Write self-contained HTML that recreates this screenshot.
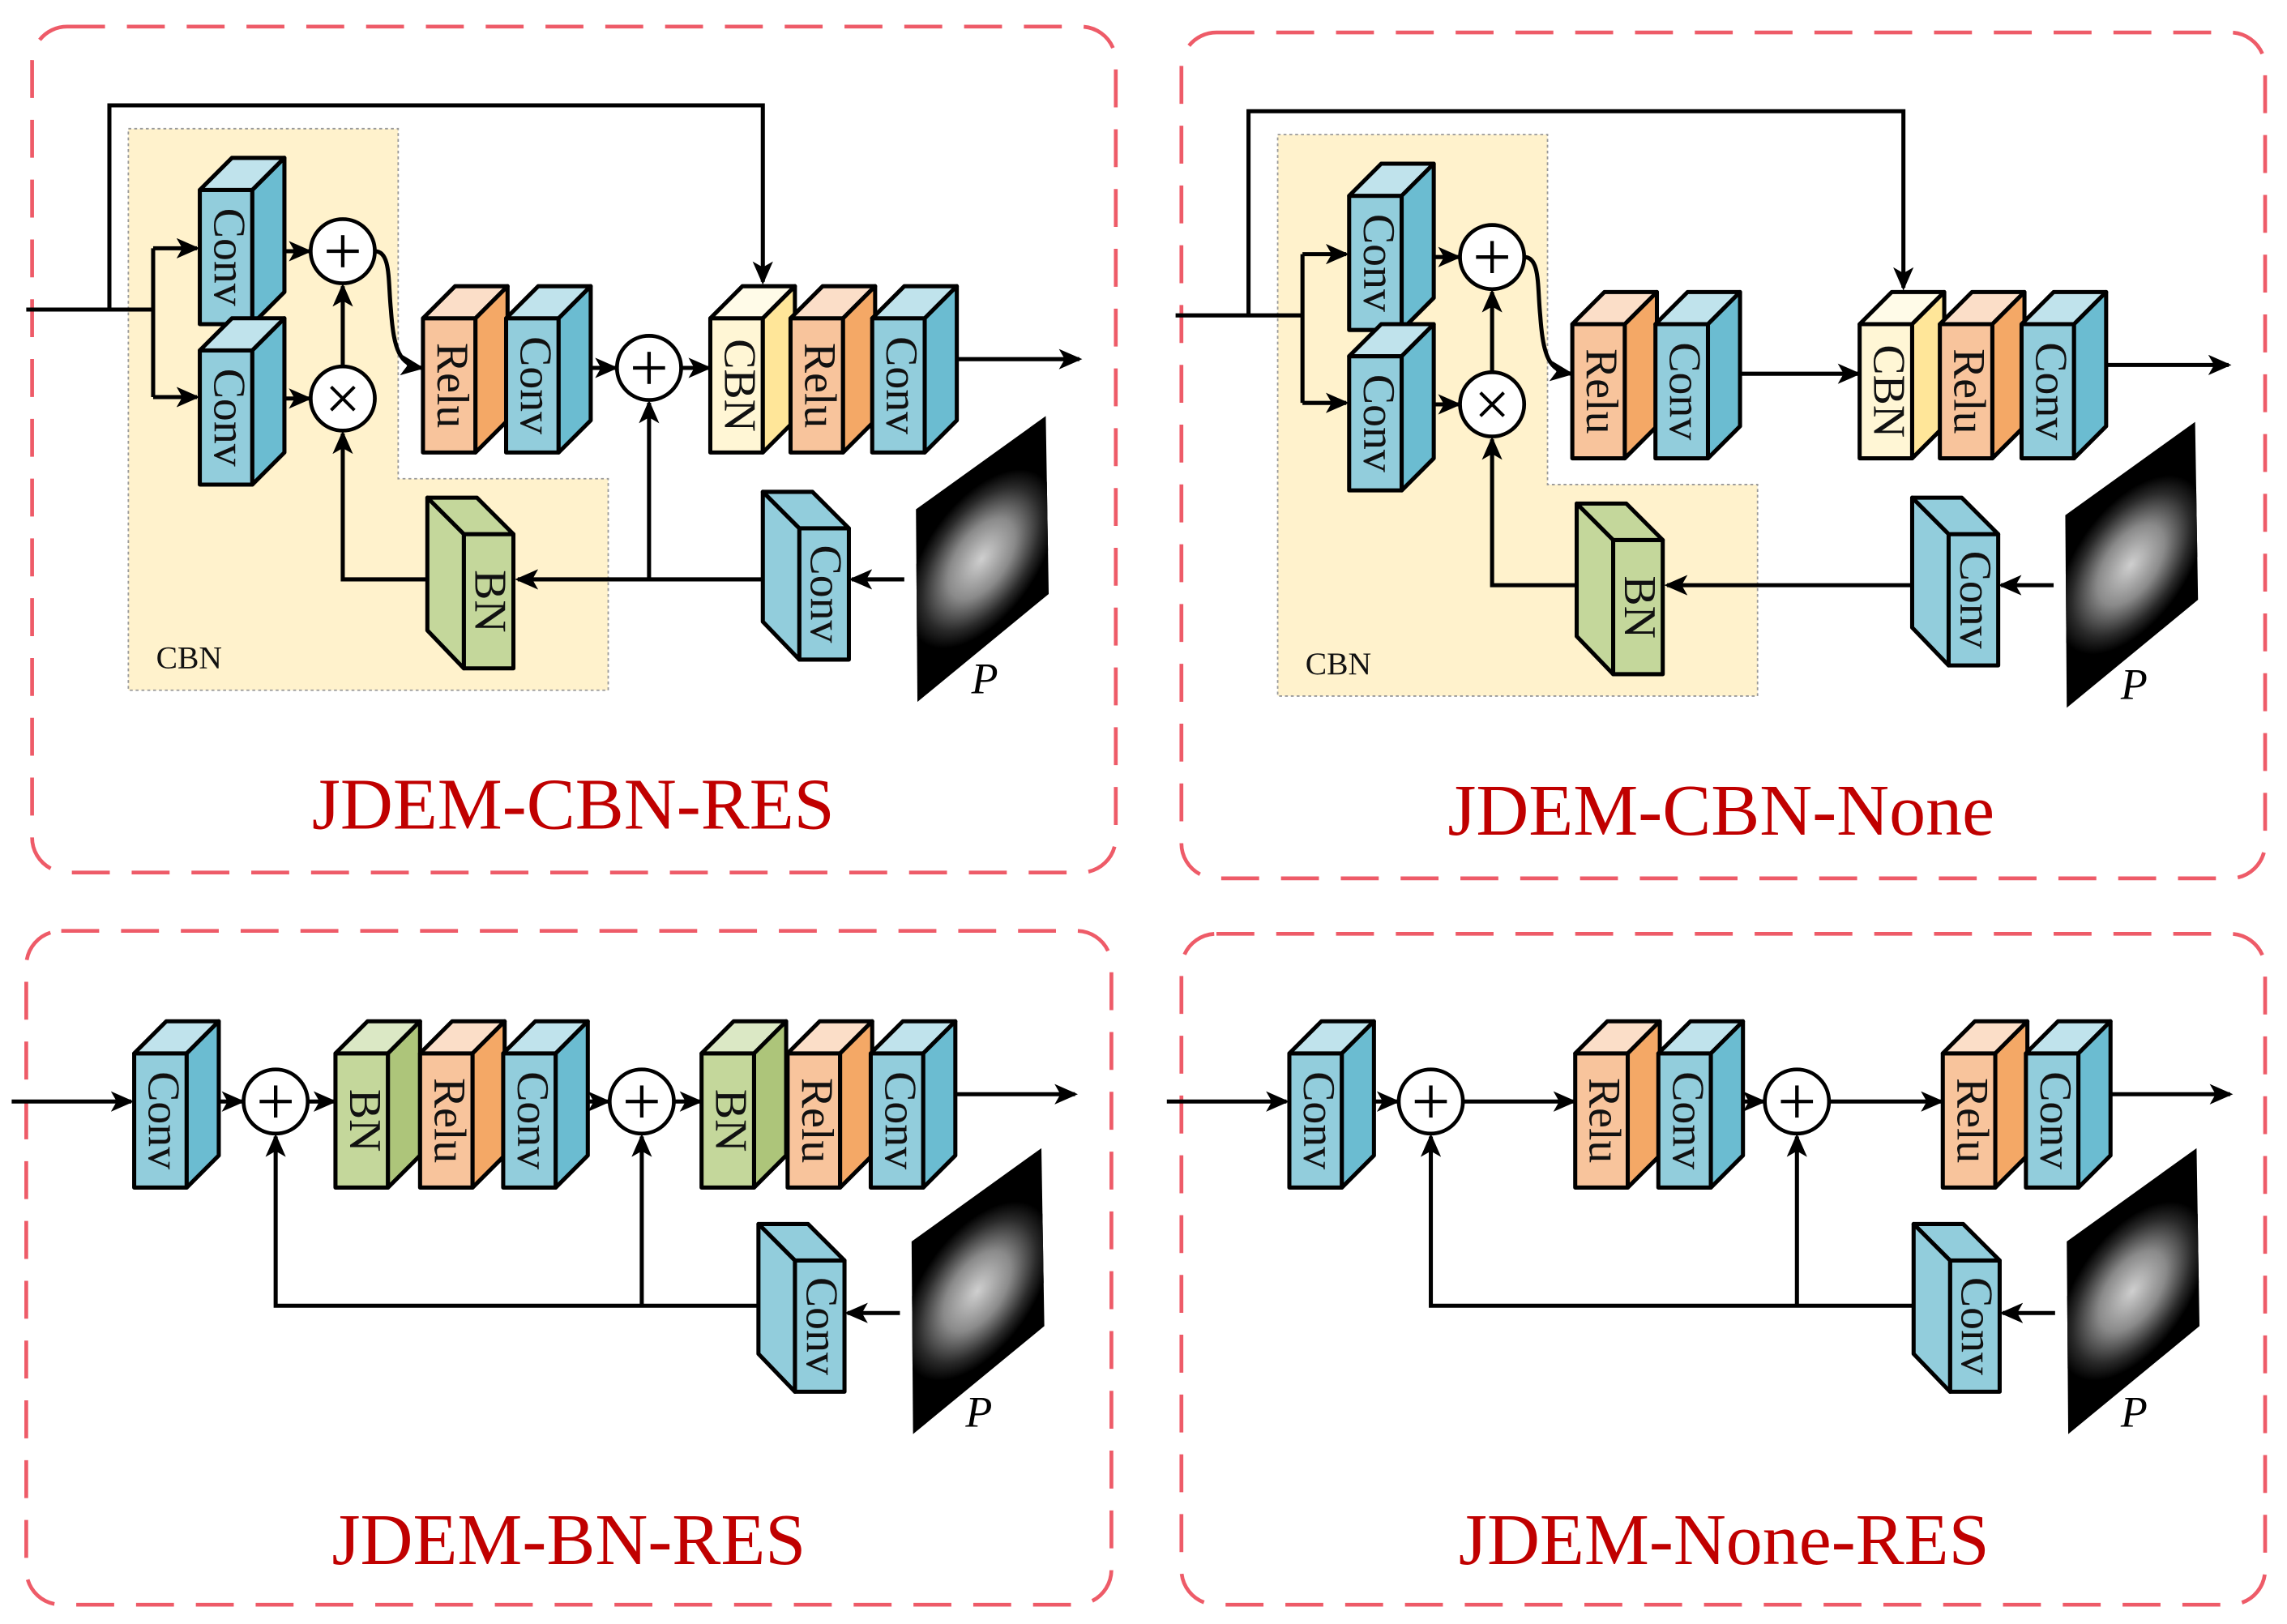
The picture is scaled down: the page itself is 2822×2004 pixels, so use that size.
<!DOCTYPE html>
<html><head><meta charset="utf-8"><style>
html,body{margin:0;padding:0;background:#fff}
svg{display:block}
text{font-family:"Liberation Serif",serif}
.bt{font-size:31px;fill:#111}
.ln{fill:none;stroke:#000;stroke-width:2.8}
.pn{fill:none;stroke:#ee5b68;stroke-width:2.6;stroke-dasharray:26 15}
.ttl{font-size:50px;fill:#c00000}
.cir{fill:#fff;stroke:#000;stroke-width:2.6}
</style></head><body>
<svg width="2822" height="2004" viewBox="0 0 1568 1113" xmlns="http://www.w3.org/2000/svg">
<defs>
<marker id="ar" markerUnits="userSpaceOnUse" markerWidth="16" markerHeight="14" refX="14" refY="7" orient="auto"><path d="M0,0 L16,7 L0,14 L4,7 Z" fill="#000"/></marker>
<g id="conv" stroke="#000" stroke-width="2.8" stroke-linejoin="round"><rect x="0" y="0" width="36" height="92" fill="#92cddc"/><polygon points="0,0 22,-22 58,-22 36,0" fill="#c0e3ec"/><polygon points="36,0 58,-22 58,70 36,92" fill="#6bbcd1"/></g>
<g id="relu" stroke="#000" stroke-width="2.8" stroke-linejoin="round"><rect x="0" y="0" width="36" height="92" fill="#f8c49c"/><polygon points="0,0 22,-22 58,-22 36,0" fill="#fbdec8"/><polygon points="36,0 58,-22 58,70 36,92" fill="#f4a866"/></g>
<g id="bn" stroke="#000" stroke-width="2.8" stroke-linejoin="round"><rect x="0" y="0" width="36" height="92" fill="#c4d79b"/><polygon points="0,0 22,-22 58,-22 36,0" fill="#dbe8c5"/><polygon points="36,0 58,-22 58,70 36,92" fill="#adc57a"/></g>
<g id="cbn" stroke="#000" stroke-width="2.8" stroke-linejoin="round"><rect x="0" y="0" width="36" height="92" fill="#fff6d5"/><polygon points="0,0 22,-22 58,-22 36,0" fill="#fffbe8"/><polygon points="36,0 58,-22 58,70 36,92" fill="#ffe699"/></g>
<g id="mconv" stroke="#000" stroke-width="2.8" stroke-linejoin="round"><rect x="0" y="0" width="34" height="90" fill="#92cddc"/><polygon points="0,0 -25,-25 9,-25 34,0" fill="#92cddc"/><polygon points="0,0 -25,-25 -25,64 0,90" fill="#92cddc"/></g>
<g id="mbn" stroke="#000" stroke-width="2.8" stroke-linejoin="round"><rect x="0" y="0" width="34" height="92" fill="#c4d79b"/><polygon points="0,0 -25,-25 9,-25 34,0" fill="#c4d79b"/><polygon points="0,0 -25,-25 -25,66 0,92" fill="#c4d79b"/></g>
<radialGradient id="pg" cx="50%" cy="50%" r="50%"><stop offset="0" stop-color="#cfcfcf"/><stop offset="0.45" stop-color="#8a8a8a"/><stop offset="0.8" stop-color="#2a2a2a"/><stop offset="1" stop-color="#000"/></radialGradient>
<clipPath id="pc"><polygon points="628,349 717,285 719,407 629,481"/></clipPath>
<g id="pimg"><polygon points="628,349 717,285 719,407 629,481" fill="#000"/><g clip-path="url(#pc)"><ellipse cx="673" cy="383" rx="38" ry="70" transform="rotate(35 673 383)" fill="url(#pg)"/></g></g>
<g id="plus"><line x1="-11" y1="0" x2="11" y2="0" stroke="#000" stroke-width="2.4"/><line x1="0" y1="-11" x2="0" y2="11" stroke="#000" stroke-width="2.4"/></g>
<g id="times"><line x1="-8" y1="-8" x2="8" y2="8" stroke="#000" stroke-width="2.2"/><line x1="-8" y1="8" x2="8" y2="-8" stroke="#000" stroke-width="2.2"/></g>
</defs>

<rect class="pn" x="22" y="18" width="743" height="580" rx="24"/>
<rect class="pn" x="810" y="22" width="743" height="580" rx="24"/>
<rect class="pn" x="18" y="638" width="744" height="462" rx="24"/>
<rect class="pn" x="810" y="640" width="743" height="460" rx="24"/>

<!-- TOP LEFT -->
<g>
<polygon points="88,88 273,88 273,328 417,328 417,473 88,473" fill="#fff2cc" stroke="#999" stroke-width="1" stroke-dasharray="2 2"/>
<text x="107" y="458" font-size="22" fill="#111">CBN</text>
<path class="ln" d="M18,212 H105 M75,212 V72 H523 V193" marker-end="url(#ar)"/>
<path class="ln" d="M105,170 V272"/>
<path class="ln" d="M105,170 H135" marker-end="url(#ar)"/>
<path class="ln" d="M105,272 H135" marker-end="url(#ar)"/>
<use href="#conv" x="137" y="130"/><text class="bt" transform="translate(157,176) rotate(90)" text-anchor="middle" dominant-baseline="central">Conv</text>
<use href="#conv" x="137" y="240"/><text class="bt" transform="translate(157,286) rotate(90)" text-anchor="middle" dominant-baseline="central">Conv</text>
<path class="ln" d="M195,172 H212" marker-end="url(#ar)"/>
<path class="ln" d="M195,273 H212" marker-end="url(#ar)"/>
<path class="ln" d="M235,251 V196" marker-end="url(#ar)"/>
<path class="ln" d="M257,172 C268,172 266,192 268,212 C270,240 274,250 289,252" marker-end="url(#ar)"/>
<circle class="cir" cx="235" cy="172" r="22"/><use href="#plus" x="235" y="172"/>
<circle class="cir" cx="235" cy="273" r="22"/><use href="#times" x="235" y="273"/>
<use href="#relu" x="290" y="218"/><text class="bt" transform="translate(310,264) rotate(90)" text-anchor="middle" dominant-baseline="central">Relu</text>
<use href="#conv" x="347" y="218"/><text class="bt" transform="translate(367,264) rotate(90)" text-anchor="middle" dominant-baseline="central">Conv</text>
<path class="ln" d="M405,252 H422" marker-end="url(#ar)"/>
<circle class="cir" cx="445" cy="252" r="22"/><use href="#plus" x="445" y="252"/>
<path class="ln" d="M467,252 H486" marker-end="url(#ar)"/>
<use href="#cbn" x="487" y="218"/><text class="bt" transform="translate(507,264) rotate(90)" text-anchor="middle" dominant-baseline="central">CBN</text>
<use href="#relu" x="542" y="218"/><text class="bt" transform="translate(562,264) rotate(90)" text-anchor="middle" dominant-baseline="central">Relu</text>
<use href="#conv" x="598" y="218"/><text class="bt" transform="translate(618,264) rotate(90)" text-anchor="middle" dominant-baseline="central">Conv</text>
<path class="ln" d="M656,246 H740" marker-end="url(#ar)"/>
<use href="#mconv" x="548" y="362"/><text class="bt" transform="translate(566,407) rotate(90)" text-anchor="middle" dominant-baseline="central">Conv</text>
<use href="#mbn" x="318" y="366"/><text class="bt" transform="translate(336,412) rotate(90)" text-anchor="middle" dominant-baseline="central">BN</text>
<path class="ln" d="M620,397 H584" marker-end="url(#ar)"/>
<path class="ln" d="M522,397 H355" marker-end="url(#ar)"/>
<path class="ln" d="M445,397 V276" marker-end="url(#ar)"/>
<path class="ln" d="M293,397 H235 V297" marker-end="url(#ar)"/>
<use href="#pimg"/>
<text x="666" y="475" font-size="30" font-style="italic" fill="#000">P</text>
<text class="ttl" x="393" y="568" text-anchor="middle">JDEM-CBN-RES</text>
</g>

<!-- TOP RIGHT -->
<g transform="translate(788,4)">
<polygon points="88,88 273,88 273,328 417,328 417,473 88,473" fill="#fff2cc" stroke="#999" stroke-width="1" stroke-dasharray="2 2"/>
<text x="107" y="458" font-size="22" fill="#111">CBN</text>
<path class="ln" d="M18,212 H105 M68,212 V72 H517 V193" marker-end="url(#ar)"/>
<path class="ln" d="M105,170 V272"/>
<path class="ln" d="M105,170 H135" marker-end="url(#ar)"/>
<path class="ln" d="M105,272 H135" marker-end="url(#ar)"/>
<use href="#conv" x="137" y="130"/><text class="bt" transform="translate(157,176) rotate(90)" text-anchor="middle" dominant-baseline="central">Conv</text>
<use href="#conv" x="137" y="240"/><text class="bt" transform="translate(157,286) rotate(90)" text-anchor="middle" dominant-baseline="central">Conv</text>
<path class="ln" d="M195,172 H212" marker-end="url(#ar)"/>
<path class="ln" d="M195,273 H212" marker-end="url(#ar)"/>
<path class="ln" d="M235,251 V196" marker-end="url(#ar)"/>
<path class="ln" d="M257,172 C268,172 266,192 268,212 C270,240 274,250 289,252" marker-end="url(#ar)"/>
<circle class="cir" cx="235" cy="172" r="22"/><use href="#plus" x="235" y="172"/>
<circle class="cir" cx="235" cy="273" r="22"/><use href="#times" x="235" y="273"/>
<use href="#relu" x="290" y="218"/><text class="bt" transform="translate(310,264) rotate(90)" text-anchor="middle" dominant-baseline="central">Relu</text>
<use href="#conv" x="347" y="218"/><text class="bt" transform="translate(367,264) rotate(90)" text-anchor="middle" dominant-baseline="central">Conv</text>
<path class="ln" d="M405,252 H486" marker-end="url(#ar)"/>
<use href="#cbn" x="487" y="218"/><text class="bt" transform="translate(507,264) rotate(90)" text-anchor="middle" dominant-baseline="central">CBN</text>
<use href="#relu" x="542" y="218"/><text class="bt" transform="translate(562,264) rotate(90)" text-anchor="middle" dominant-baseline="central">Relu</text>
<use href="#conv" x="598" y="218"/><text class="bt" transform="translate(618,264) rotate(90)" text-anchor="middle" dominant-baseline="central">Conv</text>
<path class="ln" d="M656,246 H740" marker-end="url(#ar)"/>
<use href="#mconv" x="548" y="362"/><text class="bt" transform="translate(566,407) rotate(90)" text-anchor="middle" dominant-baseline="central">Conv</text>
<use href="#mbn" x="318" y="366"/><text class="bt" transform="translate(336,412) rotate(90)" text-anchor="middle" dominant-baseline="central">BN</text>
<path class="ln" d="M620,397 H584" marker-end="url(#ar)"/>
<path class="ln" d="M522,397 H355" marker-end="url(#ar)"/>
<path class="ln" d="M293,397 H235 V297" marker-end="url(#ar)"/>
<use href="#pimg"/>
<text x="666" y="475" font-size="30" font-style="italic" fill="#000">P</text>
<text class="ttl" x="392" y="568" text-anchor="middle">JDEM-CBN-None</text>
</g>

<!-- BOTTOM LEFT -->
<g>
<path class="ln" d="M8,755 H90" marker-end="url(#ar)"/>
<use href="#conv" x="92" y="722"/><text class="bt" transform="translate(112,768) rotate(90)" text-anchor="middle" dominant-baseline="central">Conv</text>
<path class="ln" d="M150,755 H166" marker-end="url(#ar)"/>
<circle class="cir" cx="189" cy="755" r="22"/><use href="#plus" x="189" y="755"/>
<path class="ln" d="M211,755 H229" marker-end="url(#ar)"/>
<use href="#bn" x="230" y="722"/><text class="bt" transform="translate(250,768) rotate(90)" text-anchor="middle" dominant-baseline="central">BN</text>
<use href="#relu" x="288" y="722"/><text class="bt" transform="translate(308,768) rotate(90)" text-anchor="middle" dominant-baseline="central">Relu</text>
<use href="#conv" x="345" y="722"/><text class="bt" transform="translate(365,768) rotate(90)" text-anchor="middle" dominant-baseline="central">Conv</text>
<path class="ln" d="M403,755 H417" marker-end="url(#ar)"/>
<circle class="cir" cx="440" cy="755" r="22"/><use href="#plus" x="440" y="755"/>
<path class="ln" d="M462,755 H480" marker-end="url(#ar)"/>
<use href="#bn" x="481" y="722"/><text class="bt" transform="translate(501,768) rotate(90)" text-anchor="middle" dominant-baseline="central">BN</text>
<use href="#relu" x="540" y="722"/><text class="bt" transform="translate(560,768) rotate(90)" text-anchor="middle" dominant-baseline="central">Relu</text>
<use href="#conv" x="597" y="722"/><text class="bt" transform="translate(617,768) rotate(90)" text-anchor="middle" dominant-baseline="central">Conv</text>
<path class="ln" d="M655,750 H737" marker-end="url(#ar)"/>
<use href="#mconv" x="545" y="864"/><text class="bt" transform="translate(563,909) rotate(90)" text-anchor="middle" dominant-baseline="central">Conv</text>
<path class="ln" d="M617,900 H581" marker-end="url(#ar)"/>
<path class="ln" d="M520,895 H189 V779" marker-end="url(#ar)"/>
<path class="ln" d="M440,895 V779" marker-end="url(#ar)"/>
<use href="#pimg" transform="translate(-3,502)"/>
<text x="662" y="978" font-size="30" font-style="italic" fill="#000">P</text>
<text class="ttl" x="390" y="1072" text-anchor="middle">JDEM-BN-RES</text>
</g>

<!-- BOTTOM RIGHT -->
<g transform="translate(792,0)">
<path class="ln" d="M8,755 H90" marker-end="url(#ar)"/>
<use href="#conv" x="92" y="722"/><text class="bt" transform="translate(112,768) rotate(90)" text-anchor="middle" dominant-baseline="central">Conv</text>
<path class="ln" d="M150,755 H166" marker-end="url(#ar)"/>
<circle class="cir" cx="189" cy="755" r="22"/><use href="#plus" x="189" y="755"/>
<path class="ln" d="M211,755 H287" marker-end="url(#ar)"/>
<use href="#relu" x="288" y="722"/><text class="bt" transform="translate(308,768) rotate(90)" text-anchor="middle" dominant-baseline="central">Relu</text>
<use href="#conv" x="345" y="722"/><text class="bt" transform="translate(365,768) rotate(90)" text-anchor="middle" dominant-baseline="central">Conv</text>
<path class="ln" d="M403,755 H417" marker-end="url(#ar)"/>
<circle class="cir" cx="440" cy="755" r="22"/><use href="#plus" x="440" y="755"/>
<path class="ln" d="M462,755 H539" marker-end="url(#ar)"/>
<use href="#relu" x="540" y="722"/><text class="bt" transform="translate(560,768) rotate(90)" text-anchor="middle" dominant-baseline="central">Relu</text>
<use href="#conv" x="597" y="722"/><text class="bt" transform="translate(617,768) rotate(90)" text-anchor="middle" dominant-baseline="central">Conv</text>
<path class="ln" d="M655,750 H737" marker-end="url(#ar)"/>
<use href="#mconv" x="545" y="864"/><text class="bt" transform="translate(563,909) rotate(90)" text-anchor="middle" dominant-baseline="central">Conv</text>
<path class="ln" d="M617,900 H581" marker-end="url(#ar)"/>
<path class="ln" d="M520,895 H189 V779" marker-end="url(#ar)"/>
<path class="ln" d="M440,895 V779" marker-end="url(#ar)"/>
<use href="#pimg" transform="translate(-3,502)"/>
<text x="662" y="978" font-size="30" font-style="italic" fill="#000">P</text>
<text class="ttl" x="390" y="1072" text-anchor="middle">JDEM-None-RES</text>
</g>
</svg>
</body></html>
